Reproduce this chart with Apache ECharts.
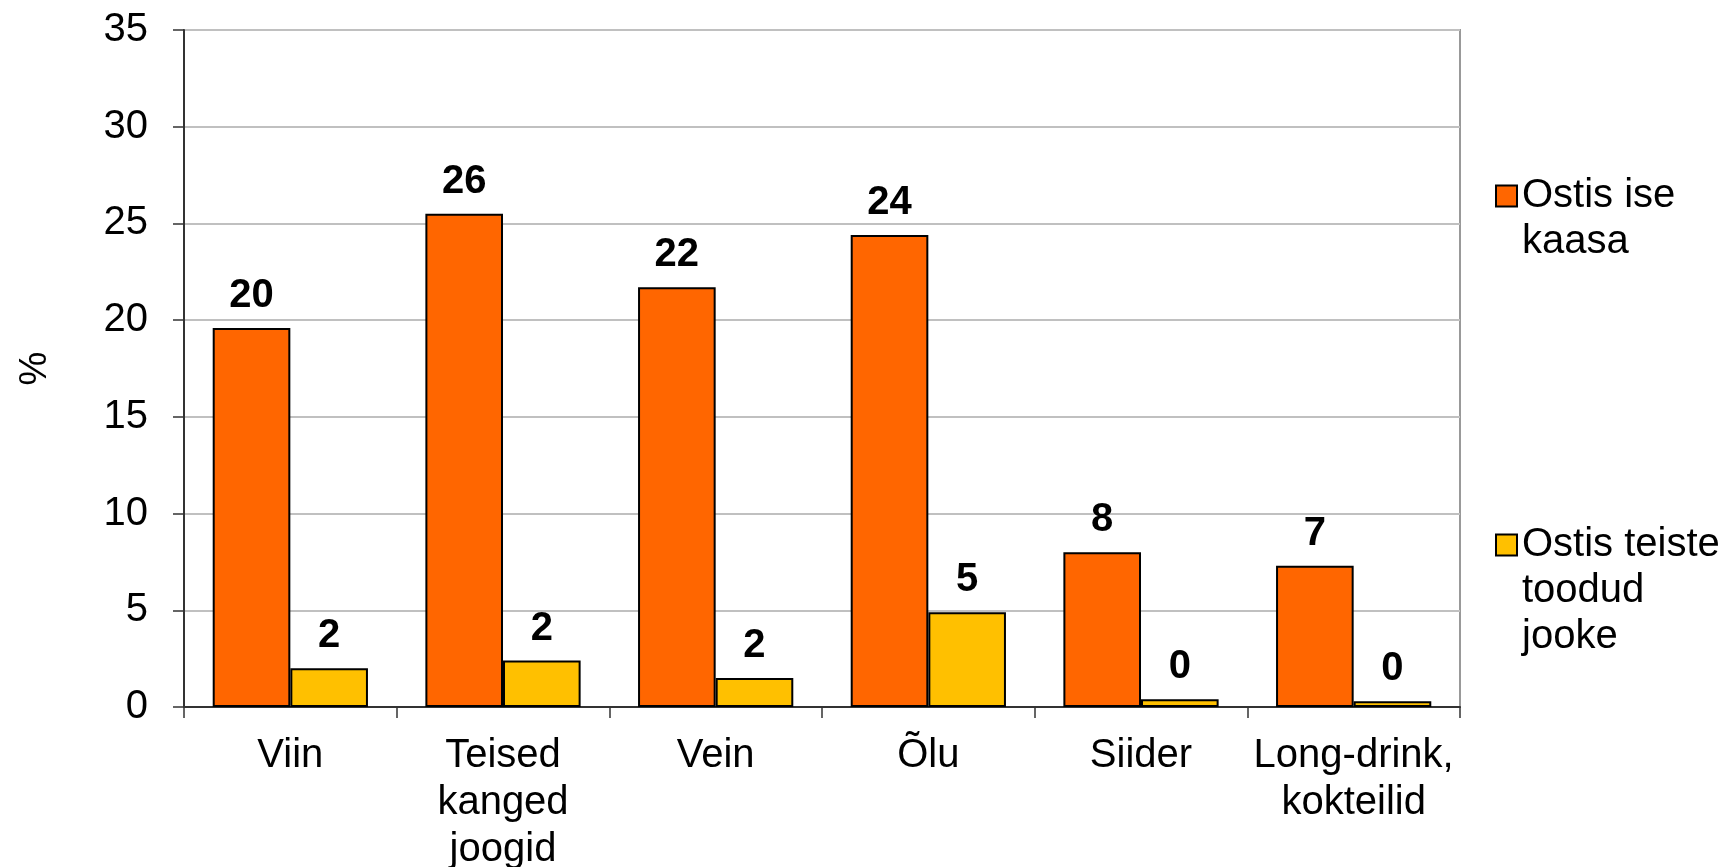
<!DOCTYPE html>
<html>
<head>
<meta charset="utf-8">
<script src="https://cdn.jsdelivr.net/npm/echarts@6/dist/echarts.min.js"></script>
<style>
  html, body { margin: 0; padding: 0; background: #fff; }
  #chart { width: 1733px; height: 867px; }
</style>
</head>
<body>
<div id="chart"></div>
<script>
// andmed
var categories = ['Viin', 'Teised\nkanged\njoogid', 'Vein', 'Õlu', 'Siider', 'Long-drink,\nkokteilid'];
var seriesNames = ['Ostis ise kaasa', 'Ostis teiste toodud jooke'];
var ostisIse = [19.6, 25.5, 21.7, 24.4, 8.0, 7.3];
var ostisTeiste = [2.0, 2.4, 1.5, 4.9, 0.4, 0.3];
var yTicks = { min: 0, max: 35, step: 5 };

var font = '"Liberation Sans", Arial, sans-serif';

// legendi tekst murtakse ridadeks, tühjad read ees et ruut jääks esimese rea kõrvale
var legendText = {
  'Ostis ise kaasa': '\nOstis ise\nkaasa',
  'Ostis teiste toodud jooke': '\n\nOstis teiste\ntoodud\njooke'
};

var labelStyle = {
  show: true,
  position: 'top',
  distance: 12,
  color: '#000',
  fontFamily: font,
  fontSize: 40,
  fontWeight: 'bold',
  formatter: function (p) { return Math.round(p.value); }
};

var legendBase = {
  orient: 'vertical',
  left: 1495,
  padding: 0,
  itemWidth: 21,
  itemHeight: 21,
  itemGap: 8,
  icon: 'rect',
  formatter: function (name) { return legendText[name]; },
  textStyle: { color: '#000', fontFamily: font, fontSize: 40, lineHeight: 46 }
};

var option = {
  backgroundColor: '#fff',
  animation: false,
  grid: {
    left: 184, top: 30, right: 273, bottom: 160,
    outerBoundsMode: 'none',
    containLabel: false,
    show: true, borderColor: '#999', borderWidth: 2, backgroundColor: 'transparent'
  },
  legend: [
    Object.assign({}, legendBase, { top: 127, data: [seriesNames[0]] }),
    Object.assign({}, legendBase, { top: 430, data: [seriesNames[1]] })
  ],
  xAxis: {
    type: 'category',
    data: categories,
    axisLine: { lineStyle: { color: '#333', width: 2 } },
    axisTick: { show: true, length: 11, interval: 0, lineStyle: { color: '#333', width: 1.5 } },
    axisLabel: {
      interval: 0, margin: 25, color: '#000',
      fontFamily: font, fontSize: 40, lineHeight: 47
    }
  },
  yAxis: {
    type: 'value',
    min: yTicks.min, max: yTicks.max, interval: yTicks.step,
    name: '%',
    nameLocation: 'middle',
    nameGap: 129,
    nameRotate: 90,
    nameTextStyle: { color: '#000', fontFamily: font, fontSize: 38 },
    axisLine: { show: true, lineStyle: { color: '#333', width: 2 } },
    axisTick: { show: true, length: 11, lineStyle: { color: '#333', width: 1.5 } },
    axisLabel: { margin: 36, color: '#000', fontFamily: font, fontSize: 40 },
    splitLine: { lineStyle: { color: '#c0c0c0', width: 2 } }
  },
  series: [
    {
      name: seriesNames[0],
      type: 'bar',
      data: ostisIse,
      barGap: '0%',
      barCategoryGap: '27%',
      itemStyle: { color: '#FF6600', borderColor: '#000', borderWidth: 2 },
      label: labelStyle
    },
    {
      name: seriesNames[1],
      type: 'bar',
      data: ostisTeiste,
      itemStyle: { color: '#FFC000', borderColor: '#000', borderWidth: 2 },
      label: labelStyle
    }
  ]
};

var myChart = echarts.init(document.getElementById('chart'));
myChart.setOption(option);
</script>
</body>
</html>
